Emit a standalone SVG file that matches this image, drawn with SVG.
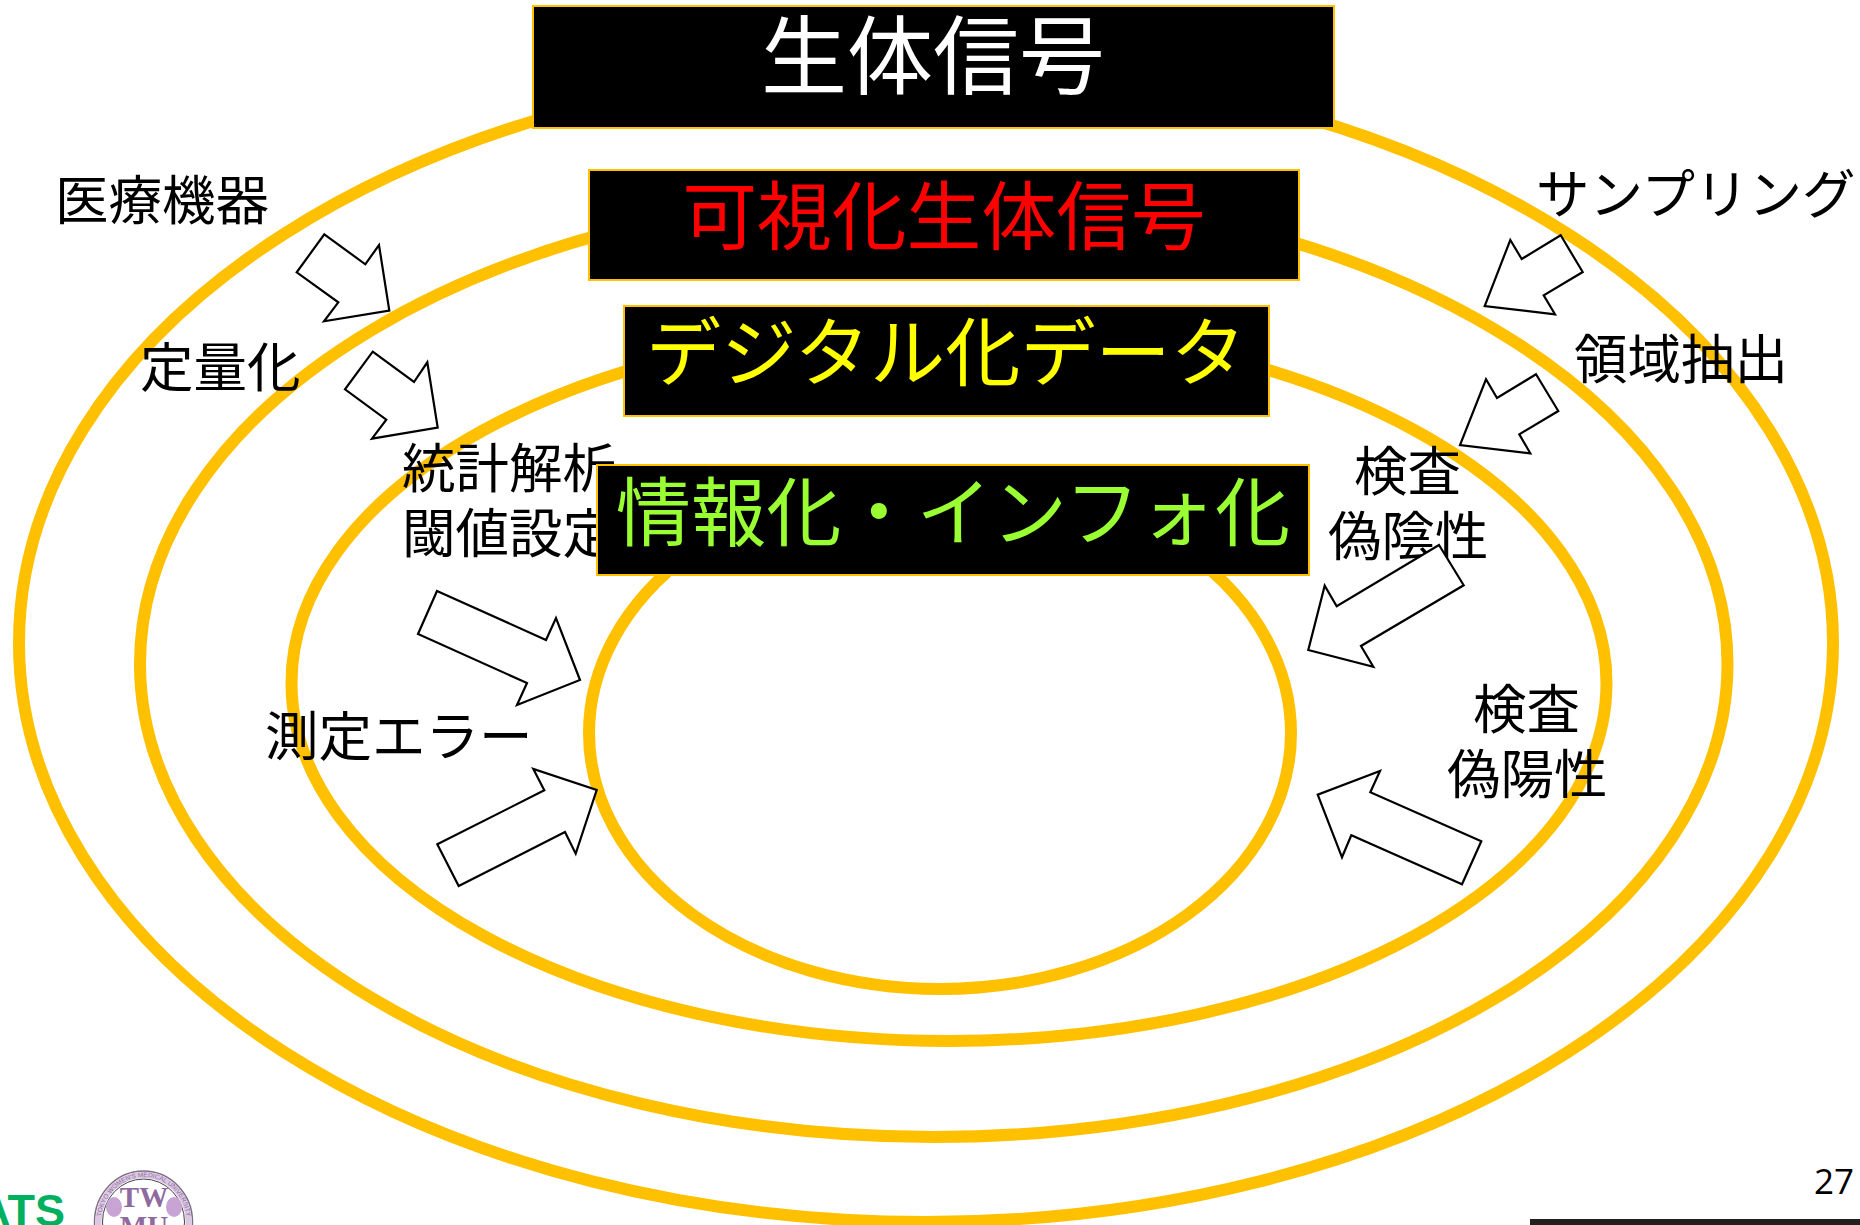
<svg xmlns="http://www.w3.org/2000/svg" width="1860" height="1225" viewBox="0 0 1860 1225">
<style>
text{font-family:"Noto Sans CJK JP","Noto Sans",sans-serif}
.ring{fill:none;stroke:#ffc000;stroke-width:12}
.box{fill:#000;stroke:#ffc000;stroke-width:2}
.arrow{fill:#fff;stroke:#000;stroke-width:2.2;stroke-linejoin:miter}
.lab{font-size:53.5px;fill:#000}
.big{font-size:75.2px}
</style>
<defs>
<path id="seal-arc" d="M101,1222 A43,45 0 0 1 187,1222"/>
</defs>
<rect width="1860" height="1225" fill="#fff"/>
<g id="rings">
<ellipse class="ring" cx="926" cy="643" rx="907" ry="579"/>
<ellipse class="ring" cx="933.75" cy="664" rx="793.75" ry="473"/>
<ellipse class="ring" cx="949" cy="683" rx="657.5" ry="358"/>
<ellipse class="ring" cx="940" cy="733" rx="351" ry="256"/>
</g>
<g id="labels">
<text class="lab" x="55" y="220">医療機器</text>
<text class="lab" x="1536" y="214">サンプリング</text>
<text class="lab" x="1574" y="379">領域抽出</text>
<text class="lab" x="140" y="387">定量化</text>
<text class="lab" x="402" y="488">統計解析</text>
<text class="lab" x="402" y="553">閾値設定</text>
<text class="lab" x="1354" y="491">検査</text>
<text class="lab" x="1328" y="556">偽陰性</text>
<text class="lab" x="265" y="756">測定エラー</text>
<text class="lab" x="1473" y="729">検査</text>
<text class="lab" x="1447" y="794">偽陽性</text>
</g>
<g id="node-seitai"><rect class="box" x="533" y="6" width="801" height="122"/><text x="933" y="88" font-size="86" fill="#fff" text-anchor="middle">生体信号</text></g>
<g id="node-kashika"><rect class="box" x="589" y="170" width="710" height="110"/><text x="944" y="244" font-size="74.8" fill="#f00" text-anchor="middle">可視化生体信号</text></g>
<g id="node-digital"><rect class="box" x="624" y="306" width="645" height="110"/><text x="946" y="380" class="big" fill="#ff0" text-anchor="middle">デジタル化データ</text></g>
<g id="node-joho"><rect class="box" x="597" y="465" width="712" height="110"/><text x="953" y="540" class="big" fill="#9f3" text-anchor="middle">情報化・インフォ化</text></g>
<g id="connectors">
<polygon class="arrow" points="324.3,234.3 365.3,264.3 379,245 389.3,310.7 324,321.3 338.3,302.3 296.7,272.3"/>
<polygon class="arrow" points="372.7,351.7 414,382 427.3,362.3 437.7,427.7 372,438.7 386.3,419.7 345,389.3"/>
<polygon class="arrow" points="437,591 546,640 556,618 580,680 517,705 527,683 418,634"/>
<polygon class="arrow" points="437.3,844.3 544.3,790.3 533.3,769 596.7,790 575.7,853.7 565,832 458.7,886"/>
<polygon class="arrow" points="1560.7,235.3 1521.7,259 1510.3,240 1484.7,306 1555,314.3 1543.7,295.3 1582.7,272"/>
<polygon class="arrow" points="1536,374.3 1497,398 1486,379.3 1460,445 1530.3,453.3 1519.3,434.3 1558.3,411"/>
<polygon class="arrow" points="1439,545 1336.7,606.3 1324.7,585.7 1308.3,650 1373.3,666.7 1361,646 1463.7,585.3"/>
<polygon class="arrow" points="1481.3,841.3 1370.3,792.3 1380,771 1317.7,794.7 1342,857.3 1351.3,835.3 1462,884.3"/>
</g>
<g id="footer">
<text x="65" y="1226" font-size="45" font-weight="700" text-anchor="end" fill="#00b060" style="font-family:'Liberation Sans',sans-serif">ATS</text>
<ellipse cx="143.5" cy="1222" rx="49" ry="51" fill="#fff" stroke="#7f6f85" stroke-width="1.5"/>
<ellipse cx="143.5" cy="1222" rx="45" ry="47" fill="none" stroke="#dcc8e4" stroke-width="6"/>
<ellipse cx="143.5" cy="1222" rx="41" ry="43" fill="#fff" stroke="#444" stroke-width="1"/>
<text font-size="6.5" fill="#8f6f9f" style="font-family:'Liberation Sans',sans-serif"><textPath href="#seal-arc" startOffset="50%" text-anchor="middle">TOKYO WOMEN'S MEDICAL UNIVERSITY</textPath></text>
<ellipse cx="114" cy="1207" rx="8" ry="10" fill="#c8a4d4"/>
<ellipse cx="174" cy="1207" rx="8" ry="10" fill="#c8a4d4"/>
<text x="144" y="1207" font-size="29" font-weight="700" text-anchor="middle" fill="#8f6a9f" style="font-family:'Liberation Serif',serif">TW</text>
<text x="144" y="1236" font-size="29" font-weight="700" text-anchor="middle" fill="#8f6a9f" style="font-family:'Liberation Serif',serif">MU</text>
<text x="1814" y="1194" font-size="35" fill="#000" style="font-family:'Open Sans',sans-serif">27</text>
<rect x="1530" y="1219" width="330" height="6" fill="#231f20"/>
</g>
</svg>
